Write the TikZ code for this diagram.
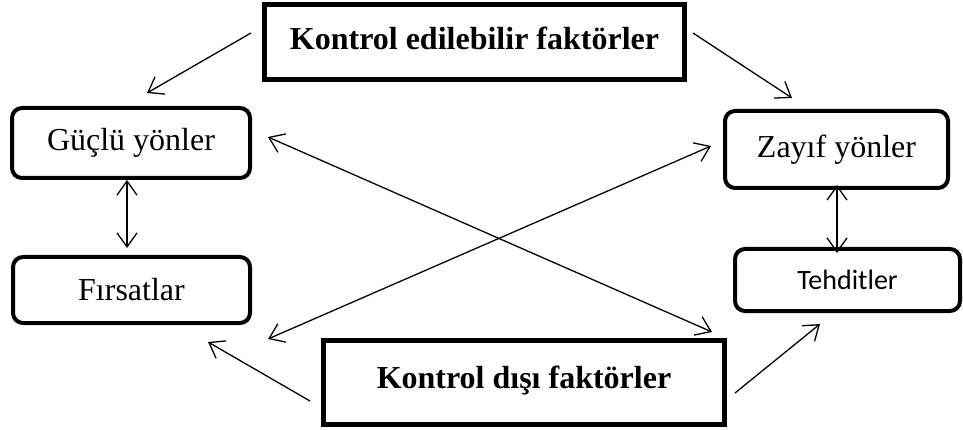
\documentclass[tikz,border=0pt]{standalone}
\usepackage{fontspec}
\setmainfont{Liberation Serif}
\newfontfamily\calibrifont{Carlito}
\usetikzlibrary{arrows.meta}
\tikzset{
  bigbox/.style={draw, line width=5pt, rectangle, inner sep=0pt, font=\fontsize{32}{37}\selectfont\bfseries},
  roundbox/.style={draw, line width=4pt, rectangle, rounded corners=10pt, inner sep=0pt, font=\fontsize{32}{37}\selectfont},
  conn/.style={line width=1.3pt, -{Straight Barb[length=14pt,width=20pt,line width=1.3pt]}},
  dconn/.style={line width=1.3pt, {Straight Barb[length=14pt,width=20pt,line width=1.3pt]}-{Straight Barb[length=14pt,width=20pt,line width=1.3pt]}}
}
\begin{document}
\begin{tikzpicture}[x=1pt,y=1pt]
\useasboundingbox (0,0) rectangle (963,-430);
\node[bigbox, minimum width=420pt, minimum height=75pt] (top) at (474.5,-42) {\raisebox{7pt}{Kontrol edilebilir faktörler}};
\node[bigbox, minimum width=401pt, minimum height=84pt] (bot) at (524,-382.5) {\raisebox{10pt}{Kontrol dışı faktörler}};
\node[roundbox, minimum width=238pt, minimum height=70pt] (guc) at (131,-143) {Güçlü yönler};
\node[roundbox, minimum width=237pt, minimum height=66pt] (fir) at (131.5,-290) {Fırsatlar};
\node[roundbox, minimum width=223pt, minimum height=77pt] (zay) at (836.5,-149.5) {Zayıf yönler};
\node[roundbox, minimum width=225pt, minimum height=62pt, font=\fontsize{28}{33}\selectfont\calibrifont] (teh) at (847.5,-280) {Tehditler};
% free ends of connectors
\coordinate (a1s) at (251,-33);  \coordinate (a1e) at (147,-93);
\coordinate (a2s) at (693,-33);  \coordinate (a2e) at (792,-98);
\coordinate (a3s) at (127,-180); \coordinate (a3e) at (127,-248);
\coordinate (a4s) at (837,-185); \coordinate (a4e) at (837,-253);
\coordinate (a5s) at (268,-137); \coordinate (a5e) at (712,-332);
\coordinate (a6s) at (711,-146); \coordinate (a6e) at (268,-339);
\coordinate (a7s) at (310,-401); \coordinate (a7e) at (208,-342);
\coordinate (a8s) at (735,-393); \coordinate (a8e) at (820,-324);
\draw[conn] (a1s) -- (a1e);
\draw[conn] (a2s) -- (a2e);
\draw[dconn] (a3s) -- (a3e);
\draw[dconn] (a4s) -- (a4e);
\draw[dconn] (a5s) -- (a5e);
\draw[dconn] (a6s) -- (a6e);
\draw[conn] (a7s) -- (a7e);
\draw[conn] (a8s) -- (a8e);
\end{tikzpicture}
\end{document}
